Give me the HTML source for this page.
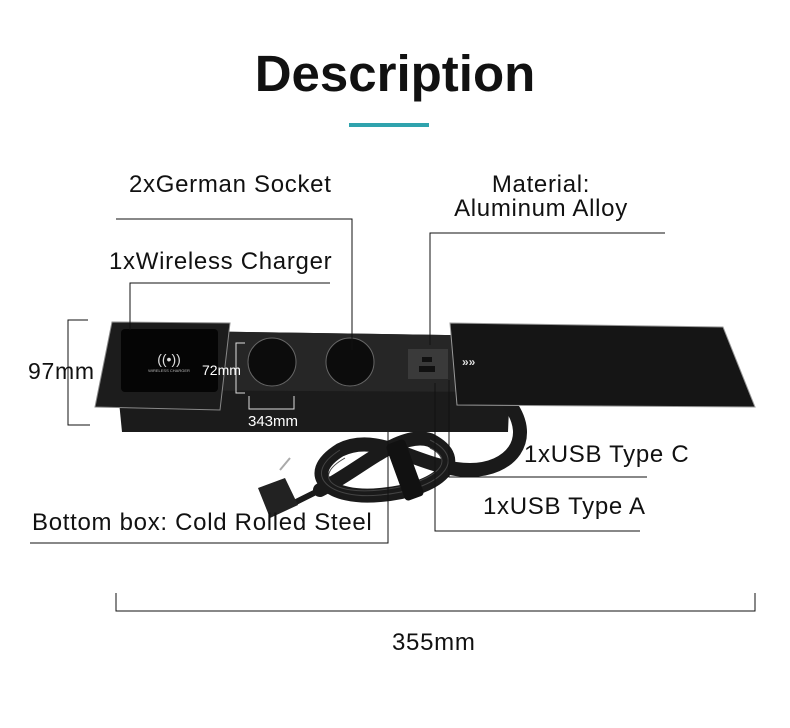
<!DOCTYPE html>
<html><head><style>
body{margin:0;background:#fff;width:790px;height:728px;overflow:hidden;position:relative;font-family:"Liberation Sans",sans-serif;}
.t{position:absolute;white-space:nowrap;color:#111;font-size:24px;letter-spacing:0.7px;}
</style></head><body>
<div class="t" style="left:0;width:790px;text-align:center;top:44px;font-size:51px;font-weight:bold;letter-spacing:0">Description</div>
<div style="position:absolute;left:349px;top:123px;width:80px;height:4px;background:#2fa3ad"></div>
<svg width="790" height="728" style="position:absolute;left:0;top:0">
<polygon points="112,330 512,336 508,432 122,432" fill="#1b1b1b"/>
<polygon points="112,330 512,336 510,392 114,390" fill="#262626"/>
<g fill="none" stroke="#1a1a1a" stroke-width="14" stroke-linecap="round">
<path d="M510,405 C535,440 510,470 470,470 C420,470 380,430 340,450 C300,475 330,500 380,495 C440,490 470,460 430,440 C400,430 360,470 320,490"/>
</g>
<g fill="none" stroke="#444" stroke-width="1">
<path d="M340,450 C300,475 330,500 380,495 C440,490 470,460 430,440"/>
<path d="M345,458 C310,478 335,495 380,490 C430,485 460,462 430,448"/>
</g>
<rect x="395" y="440" width="20" height="60" rx="4" fill="#111" transform="rotate(-20 405 470)"/>
<path d="M320,490 L290,505" stroke="#1a1a1a" stroke-width="6"/>
<polygon points="258,488 285,478 298,505 270,518" fill="#222"/>
<path d="M280,470 L290,458" stroke="#aaa" stroke-width="2"/>
<polygon points="112,322 230,323 220,410 95,407" fill="#1c1c1c" stroke="#888" stroke-width="1"/>
<rect x="121" y="329" width="97" height="63" rx="4" fill="#050505"/>
<text x="169" y="364" font-size="14" fill="#ddd" text-anchor="middle" font-family="Liberation Sans">((•))</text>
<text x="169" y="372" font-size="4" fill="#bbb" text-anchor="middle" font-family="Liberation Sans">WIRELESS CHARGER</text>
<polygon points="450,323 723,327 755,407 457,405" fill="#151515" stroke="#999" stroke-width="1"/>
<text x="462" y="366" font-size="12" fill="#ddd" font-family="Liberation Sans" font-weight="bold">»»</text>
<circle cx="272" cy="362" r="24" fill="#0c0c0c" stroke="#666"/>
<circle cx="350" cy="362" r="24" fill="#0c0c0c" stroke="#666"/>
<rect x="408" y="349" width="40" height="30" fill="#3a3a3a"/>
<rect x="422" y="357" width="10" height="5" fill="#111"/>
<rect x="419" y="366" width="16" height="6" fill="#111"/>
<g stroke="#111" stroke-width="1" fill="none">
<path d="M116,219 H352 V350"/>
<path d="M665,233 H430 V345"/>
<path d="M330,283 H130 V330"/>
<path d="M88,320 H68 V425 H90"/>
<path d="M647,477 H449 V380"/>
<path d="M640,531 H435 V383"/>
<path d="M30,543 H388 V432"/>
<path d="M116,593 V611 H755 V593"/>
</g>
<g stroke="#ddd" stroke-width="1" fill="none">
<path d="M245,343 H236 V393 H245"/>
<path d="M249,396 V409 H294 V396"/>
</g>
</svg>
<div class="t" style="left:129px;top:171px;">2xGerman Socket</div>
<div class="t" style="left:420px;width:242px;text-align:center;top:173px;line-height:24px;">Material:<br>Aluminum Alloy</div>
<div class="t" style="left:109px;top:248px;">1xWireless Charger</div>
<div class="t" style="left:28px;top:358px;font-size:23px;">97mm</div>
<div class="t" style="left:202px;top:362px;font-size:14px;color:#fff;letter-spacing:0">72mm</div>
<div class="t" style="left:248px;top:413px;font-size:15px;color:#fff;letter-spacing:0">343mm</div>
<div class="t" style="left:524px;top:441px;">1xUSB Type C</div>
<div class="t" style="left:483px;top:493px;">1xUSB Type A</div>
<div class="t" style="left:32px;top:509px;">Bottom box: Cold Rolled Steel</div>
<div class="t" style="left:392px;top:629px;">355mm</div>
</body></html>
